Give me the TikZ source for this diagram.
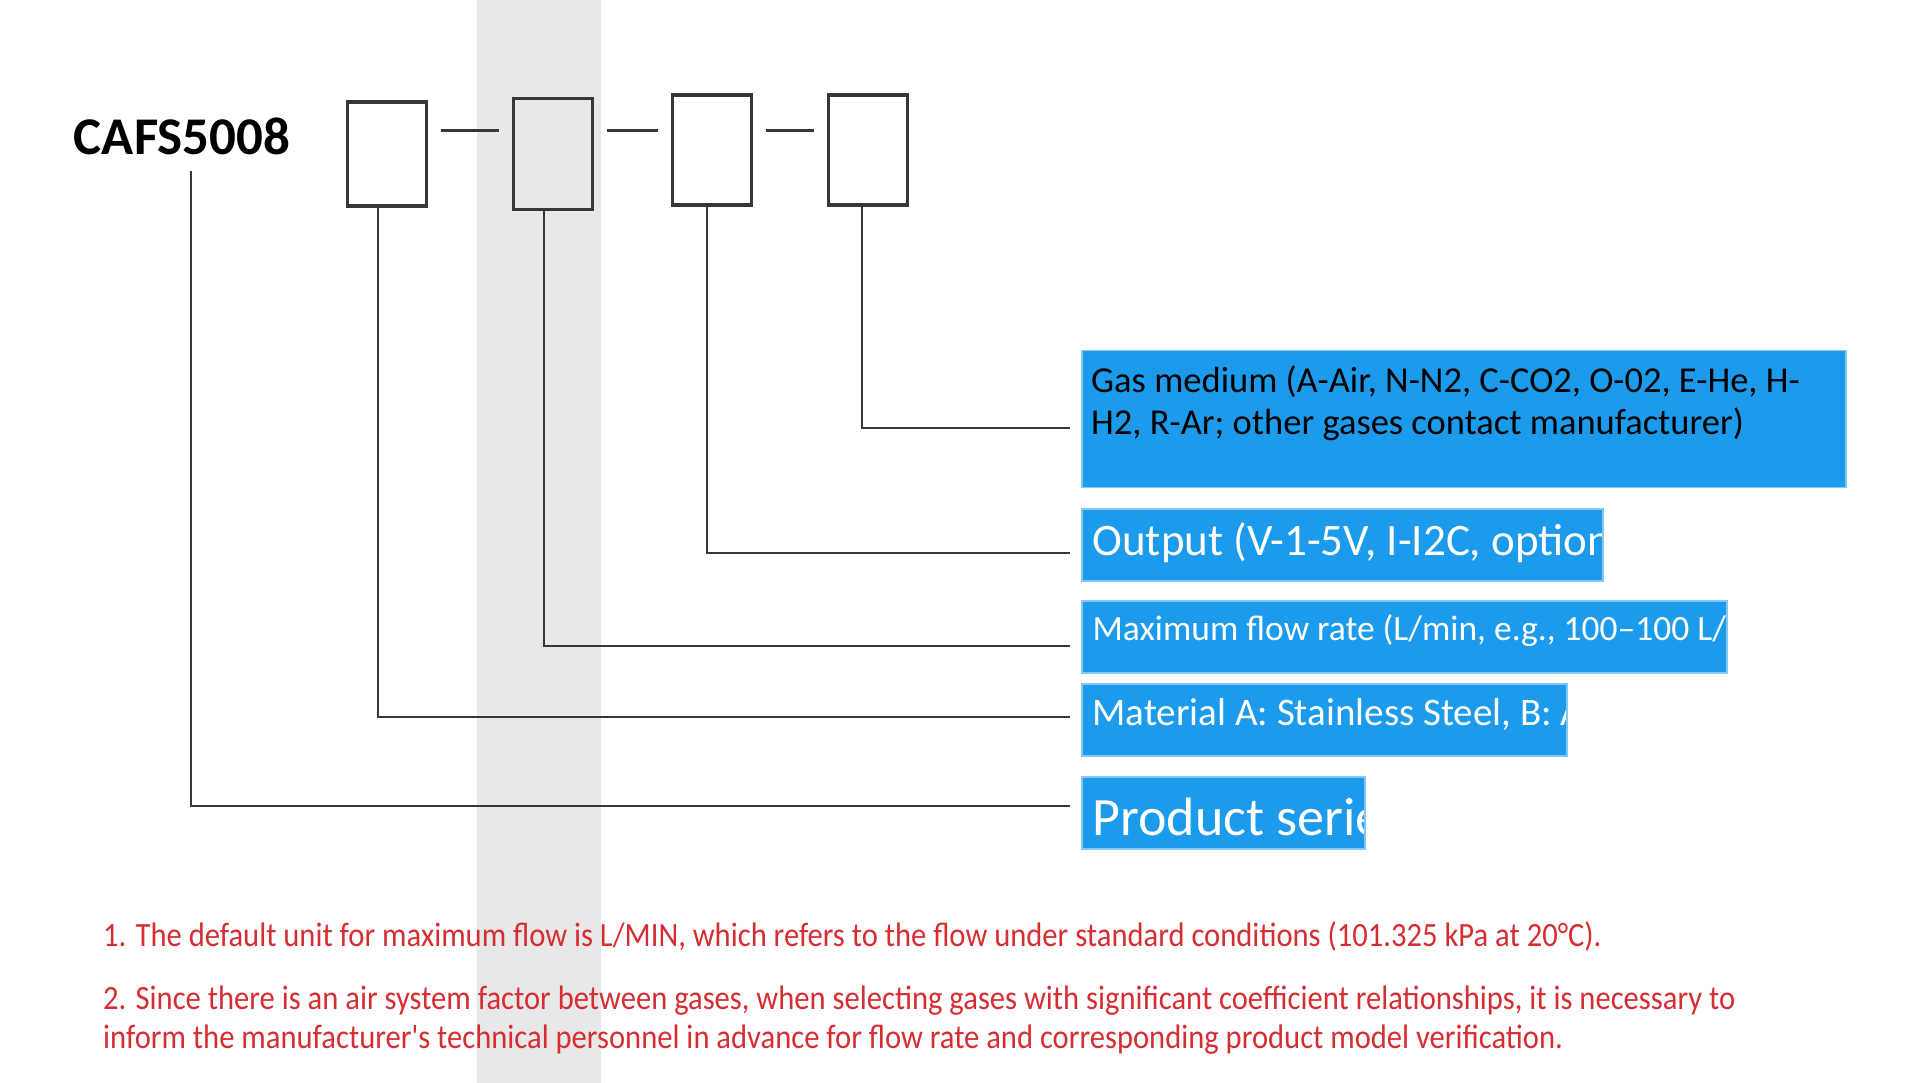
\documentclass[tikz,border=0pt]{standalone}
\usepackage{fontspec}
\setmainfont{Carlito}
\newfontfamily\notefont[FakeStretch=0.90]{Carlito}
\definecolor{boxblue}{RGB}{28,155,236}
\definecolor{notered}{RGB}{214,45,50}
\definecolor{linegray}{RGB}{55,55,55}
\definecolor{bandgray}{RGB}{232,232,232}
\tikzset{
	codebox/.style={draw=linegray, line width=3.5pt, minimum width=79pt, minimum height=108pt, inner sep=0pt},
	lead/.style={draw=linegray, line width=2.7pt, shorten >=11pt},
	bluebox/.style={fill=boxblue, draw=boxblue!55!white, line width=1.5pt, anchor=west, minimum height=72pt, inner sep=0pt},
	cliptext/.style n args={3}{path picture={\node[anchor=west, inner sep=0pt, minimum width=0pt, minimum height=0pt, draw=none, fill=none, text=white, font=#2] at ([xshift=10pt,yshift=#1]path picture bounding box.west) {#3};}},
	note/.style={anchor=west, inner sep=0pt, text=notered, align=left, font=\notefont\fontsize{34}{39}\selectfont}
}
\begin{document}
\begin{tikzpicture}[x=1pt,y=-1pt]
	\useasboundingbox (0,0) rectangle (1908,1083);
	\fill[bandgray] (477,0) rectangle (601,1083);
	% model code
	\node[inner sep=0pt, font=\bfseries\fontsize{53}{60}\selectfont] (cafs) at (182,136) {CAFS5008};
	\foreach \n/\x/\y/\h in {1/387/154/104, 2/553/154/111, 3/712/150/110, 4/868/150/110}
		\node[codebox, minimum height=\h pt] (b\n) at (\x,\y) {};
	\coordinate (dashy) at (0,131);
	\foreach \a/\b in {1/2, 2/3, 3/4}
		\draw[linegray, line width=3pt, shorten <=13pt, shorten >=13pt] (b\a.east |- dashy) -- (b\b.west |- dashy);
	% explanations
	\node[bluebox, minimum width=764pt, minimum height=137pt] (gas) at (1081,419) {};
	\node[anchor=north west, inner sep=0pt, align=left, font=\fontsize{36.5}{41.5}\selectfont] (gastext) at ([xshift=10pt,yshift=-16pt]gas.north west)
		{Gas medium (A-Air, N-N2, C-CO2, O-02, E-He, H-\\H2, R-Ar; other gases contact manufacturer)};
	\node[bluebox, minimum width=521pt, cliptext={2pt}{\fontsize{45}{50}\selectfont}{Output (V-1-5V, I-I2C, option}] (out) at (1081,545) {};
	\node[bluebox, minimum width=645pt, cliptext={6pt}{\fontsize{35.5}{40}\selectfont}{Maximum flow rate (L/min, e.g., 100–100 L/}] (flow) at (1081,637) {};
	\node[bluebox, minimum width=485pt, cliptext={6pt}{\fontsize{39}{44}\selectfont}{Material A: Stainless Steel, B: A}] (mat) at (1081,720) {};
	\node[bluebox, minimum width=283pt, cliptext={-4pt}{\fontsize{54}{60}\selectfont}{Product serie}] (prod) at (1081,813) {};
	% leads
	\draw[lead, shorten <=16pt] ([xshift=9pt]cafs.south) |- ([yshift=7pt]prod.west);
	\draw[lead] ([xshift=-9pt]b1.south) |- ([yshift=3pt]mat.west);
	\draw[lead] ([xshift=-9pt]b2.south) |- ([yshift=-9pt]flow.west);
	\draw[lead] ([xshift=-5pt]b3.south) |- ([yshift=-8pt]out.west);
	\draw[lead] ([xshift=-6pt]b4.south) |- ([yshift=-9pt]gas.west);
	% notes
	\node[note] (n1) at (103,936) {1. The default unit for maximum flow is L/MIN, which refers to the flow under standard conditions (101.325 kPa at 20°C).};
	\node[note] (n2) at (103,1020) {2. Since there is an air system factor between gases, when selecting gases with significant coefficient relationships, it is necessary to\\inform the manufacturer's technical personnel in advance for flow rate and corresponding product model verification.};
\end{tikzpicture}
\end{document}
